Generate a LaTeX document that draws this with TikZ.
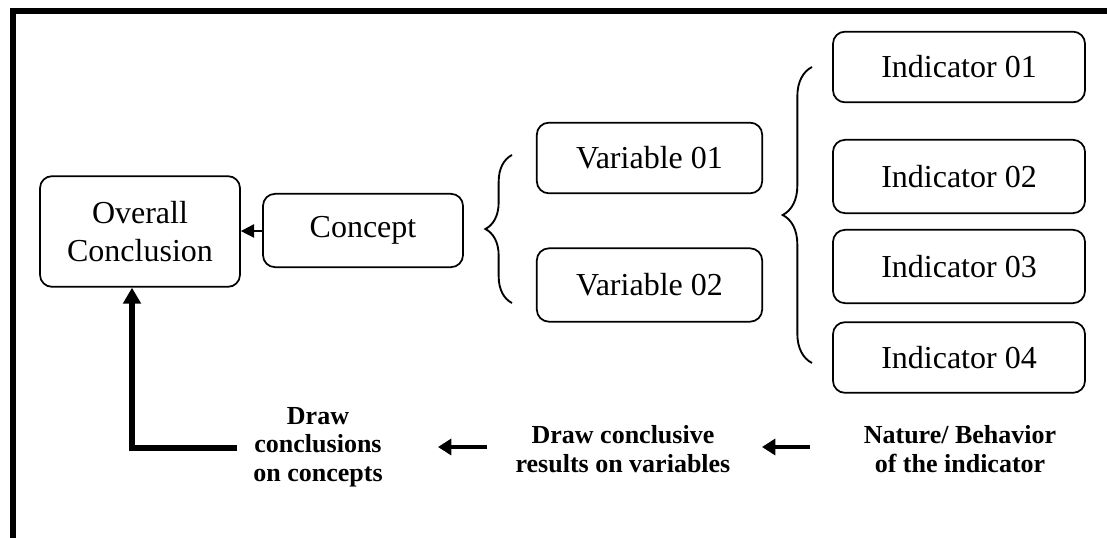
\documentclass[tikz,border=0pt]{standalone}
\usepackage{fontspec}
\setmainfont{Liberation Serif}
\usepackage{tikz}
\usetikzlibrary{calc,arrows.meta,decorations.pathreplacing,positioning}

\tikzset{
  box/.style={draw, line width=1.3pt, rounded corners=9pt, align=center,
    font=\fontsize{24}{28.5}\selectfont, inner sep=0pt},
  note/.style={align=center, font=\fontsize{19.5}{21.5}\selectfont\bfseries},
  curly/.style={decorate, line width=1.4pt},
  thinarrow/.style={line width=1.3pt, -{Triangle[length=10pt,width=10pt]}},
  thickarrow/.style={line width=3pt, -{Triangle[length=10pt,width=12pt]}},
}

\begin{document}
\begin{tikzpicture}[x=0.75pt,y=-0.75pt]
    \useasboundingbox (0,0) rectangle (1107,538);

    % the frame
    \draw[line width=4.5pt] (1107,11.5) -- (13,11.5) -- (13,538);

    % the boxes
    \node[box, minimum width=150pt, minimum height=83pt] (ovr) at (140,231.5) {Overall\\Conclusion};
    \node[box, minimum width=150pt, minimum height=55pt] (cpt) at (363,230.5) {Concept};
    \node[box, minimum width=169pt, minimum height=53pt] (var1) at (649.5,158) {Variable 01};
    \node[box, minimum width=169pt, minimum height=55pt] (var2) at (649.5,285) {Variable 02};
    \node[box, minimum width=189pt, minimum height=53pt] (ind1) at (959,67) {Indicator 01};
    \node[box, minimum width=189pt, minimum height=55pt] (ind2) at (959,176.5) {Indicator 02};
    \node[box, minimum width=189pt, minimum height=55pt] (ind3) at (959,266.5) {Indicator 03};
    \node[box, minimum width=189pt, minimum height=53pt] (ind4) at (959,357.5) {Indicator 04};

    % the braces
    \draw[curly, decoration={brace,amplitude=20pt}] (512,303) -- (512,155);
    \draw[curly, decoration={brace,amplitude=22pt}] (812,363) -- (812,67);

    \draw[thinarrow] (cpt) -- (ovr);

    % the steps below
    \node[note] (drw1) at (318,447) {Draw\\conclusions\\on concepts};
    \node[note] (drw2) at (623,449) {Draw conclusive\\results on variables};
    \node[note] (nat)  at (960,449) {Nature/ Behavior\\of the indicator};

    \coordinate (a1) at (810,447);
    \coordinate (b1) at (762,447);
    \coordinate (a2) at (487,447);
    \coordinate (b2) at (438,447);
    \draw[thickarrow] (a1) -- (b1);
    \draw[thickarrow] (a2) -- (b2);

    \coordinate (lstart) at (237,448);
    \coordinate (lbend)  at (132,448);
    \draw[line width=4.5pt, -{Triangle[length=12pt,width=13pt]}] (lstart) -- (lbend) -- (lbend |- ovr.south);
\end{tikzpicture}
\end{document}
